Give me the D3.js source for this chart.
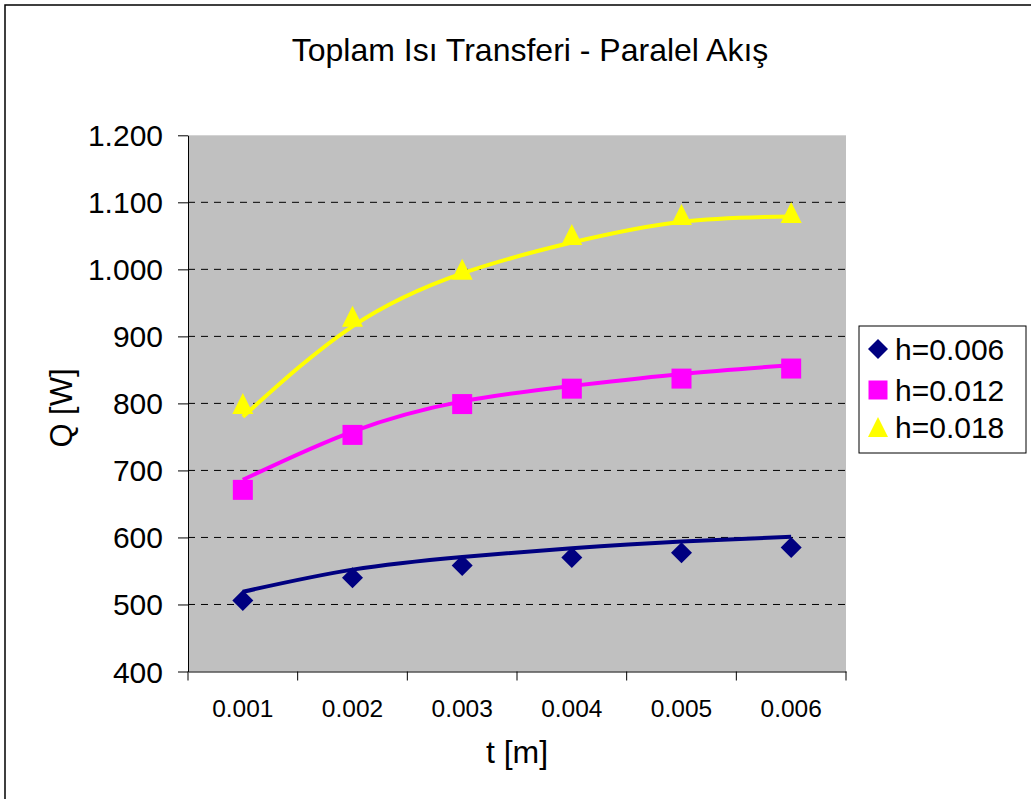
<!DOCTYPE html>
<html>
<head>
<meta charset="utf-8">
<script src="https://cdn.jsdelivr.net/npm/d3@7"></script>
<style>
  body { margin: 0; background: #fff; }
  svg { display: block; font-family: "Liberation Sans", Arial, sans-serif; }
  .axis text { fill: #000; }
  .axis path, .axis line { stroke: #000; }
</style>
</head>
<body>
<svg id="chart" width="1031" height="799"></svg>
<script>

// categories (t [m]) and the three series
var categories = ["0.001", "0.002", "0.003", "0.004", "0.005", "0.006"];
var yTicks = [400, 500, 600, 700, 800, 900, 1000, 1100, 1200];

var q006 = [506, 540, 558, 570, 577, 585];
var q012 = [671, 753, 799, 822, 837, 852];
var q018 = [800, 930, 1000, 1052, 1082, 1085];

// trend lines at each category
var trend006 = [519, 552, 571, 584, 594, 601];
var trend012 = [686, 758, 803, 826, 844, 857];
var trend018 = [780, 915, 994, 1040, 1071, 1079];

var seriesNames = ["h=0.006", "h=0.012", "h=0.018"];

var series = [
    { name: seriesNames[0], values: q006, trend: trend006, colour: "#000080", shape: "diamond" },
    { name: seriesNames[1], values: q012, trend: trend012, colour: "#FF00FF", shape: "square" },
    { name: seriesNames[2], values: q018, trend: trend018, colour: "#FFFF00", shape: "triangle" }
];

var svg = d3.select("#chart");

var plot = { left: 188, right: 846, top: 135.3, bottom: 671.5 };

var x = d3.scaleBand().domain(categories).range([plot.left, plot.right]);
var y = d3.scaleLinear().domain([400, 1200]).range([plot.bottom, plot.top]);

// outer chart border (only left and top are in view)
svg.append("rect")
    .attr("x", 5).attr("y", 5)
    .attr("width", 1100).attr("height", 900)
    .style("fill", "none").style("stroke", "#000").style("stroke-width", 1.5);

// title
svg.append("text")
    .attr("x", 530).attr("y", 61)
    .attr("text-anchor", "middle")
    .style("font-size", "32px")
    .text("Toplam Isı Transferi - Paralel Akış");

// plot background
svg.append("rect")
    .attr("x", plot.left).attr("y", plot.top)
    .attr("width", plot.right - plot.left).attr("height", plot.bottom - plot.top)
    .style("fill", "#C0C0C0");

// dashed gridlines
svg.selectAll(".grid")
    .data(yTicks.slice(1, -1))
    .enter().append("line")
    .attr("class", "grid")
    .attr("x1", plot.left).attr("x2", plot.right)
    .attr("y1", function(d) { return y(d); })
    .attr("y2", function(d) { return y(d); })
    .style("stroke", "#000")
    .style("stroke-width", 1)
    .style("stroke-dasharray", "7,6");

// y axis with "1.200" style labels
var trFormat = d3.formatLocale({ decimal: ",", thousands: ".", grouping: [3], currency: ["", ""] }).format(",");

var yAxis = d3.axisLeft(y)
    .tickValues(yTicks)
    .tickSize(10)
    .tickSizeOuter(0)
    .tickPadding(15)
    .tickFormat(trFormat);

var gy = svg.append("g")
    .attr("class", "y axis")
    .attr("transform", "translate(" + plot.left + ",0)")
    .call(yAxis);
gy.selectAll("text").style("font-size", "30px").attr("dy", "0.35em");

// x axis: labels at category centres, ticks at the boundaries
var xAxis = d3.axisBottom(x).tickSize(0).tickSizeOuter(0).tickPadding(0);
var gx = svg.append("g")
    .attr("class", "x axis")
    .attr("transform", "translate(0," + plot.bottom + ")")
    .call(xAxis);
gx.selectAll("text").style("font-size", "24.5px").attr("y", 45).attr("dy", 0);

gx.selectAll(".boundary")
    .data(categories.concat(["end"]))
    .enter().append("line")
    .attr("class", "boundary")
    .attr("x1", function(d) { return d === "end" ? plot.right : x(d); })
    .attr("x2", function(d) { return d === "end" ? plot.right : x(d); })
    .attr("y1", 0).attr("y2", 9)
    .style("stroke", "#000");

// axis titles
svg.append("text")
    .attr("x", 517).attr("y", 763)
    .attr("text-anchor", "middle")
    .style("font-size", "32px")
    .text("t [m]");

svg.append("text")
    .attr("transform", "translate(72,408) rotate(-90)")
    .attr("text-anchor", "middle")
    .style("font-size", "31px")
    .text("Q [W]");

function markerPath(shape, s) {
    var h = s / 2;
    if (shape === "diamond") return "M0," + (-h) + "L" + h + ",0L0," + h + "L" + (-h) + ",0Z";
    if (shape === "square") return "M" + (-h + 0.5) + "," + (-h + 0.5) + "h" + (s - 1) + "v" + (s - 1) + "h" + (1 - s) + "Z";
    return "M0," + (-h) + "L" + h + "," + h + "L" + (-h) + "," + h + "Z";
}

var cx = function(d, i) { return x(categories[i]) + x.bandwidth() / 2; };

var trendLine = d3.line()
    .x(cx)
    .y(function(d) { return y(d); })
    .curve(d3.curveNatural);

series.forEach(function(s) {
    svg.selectAll(".pt-" + s.shape)
        .data(s.values)
        .enter().append("path")
        .attr("class", "pt-" + s.shape)
        .attr("d", markerPath(s.shape, 21))
        .attr("transform", function(d, i) { return "translate(" + cx(d, i) + "," + y(d) + ")"; })
        .style("fill", s.colour);

    svg.append("path")
        .datum(s.trend)
        .attr("d", trendLine)
        .style("fill", "none")
        .style("stroke", s.colour)
        .style("stroke-width", 4);
});

// legend
var legend = svg.append("g").attr("class", "legend");
legend.append("rect")
    .attr("x", 859).attr("y", 326)
    .attr("width", 167).attr("height", 127)
    .style("fill", "#fff").style("stroke", "#000").style("stroke-width", 1);

var rowY = [349, 390, 427];
series.forEach(function(s, i) {
    legend.append("path")
        .attr("d", markerPath(s.shape, 20))
        .attr("transform", "translate(878," + rowY[i] + ")")
        .style("fill", s.colour);
    legend.append("text")
        .attr("x", 895).attr("y", rowY[i])
        .attr("dy", "0.36em")
        .style("font-size", "30px")
        .text(s.name);
});

</script>
</body>
</html>
